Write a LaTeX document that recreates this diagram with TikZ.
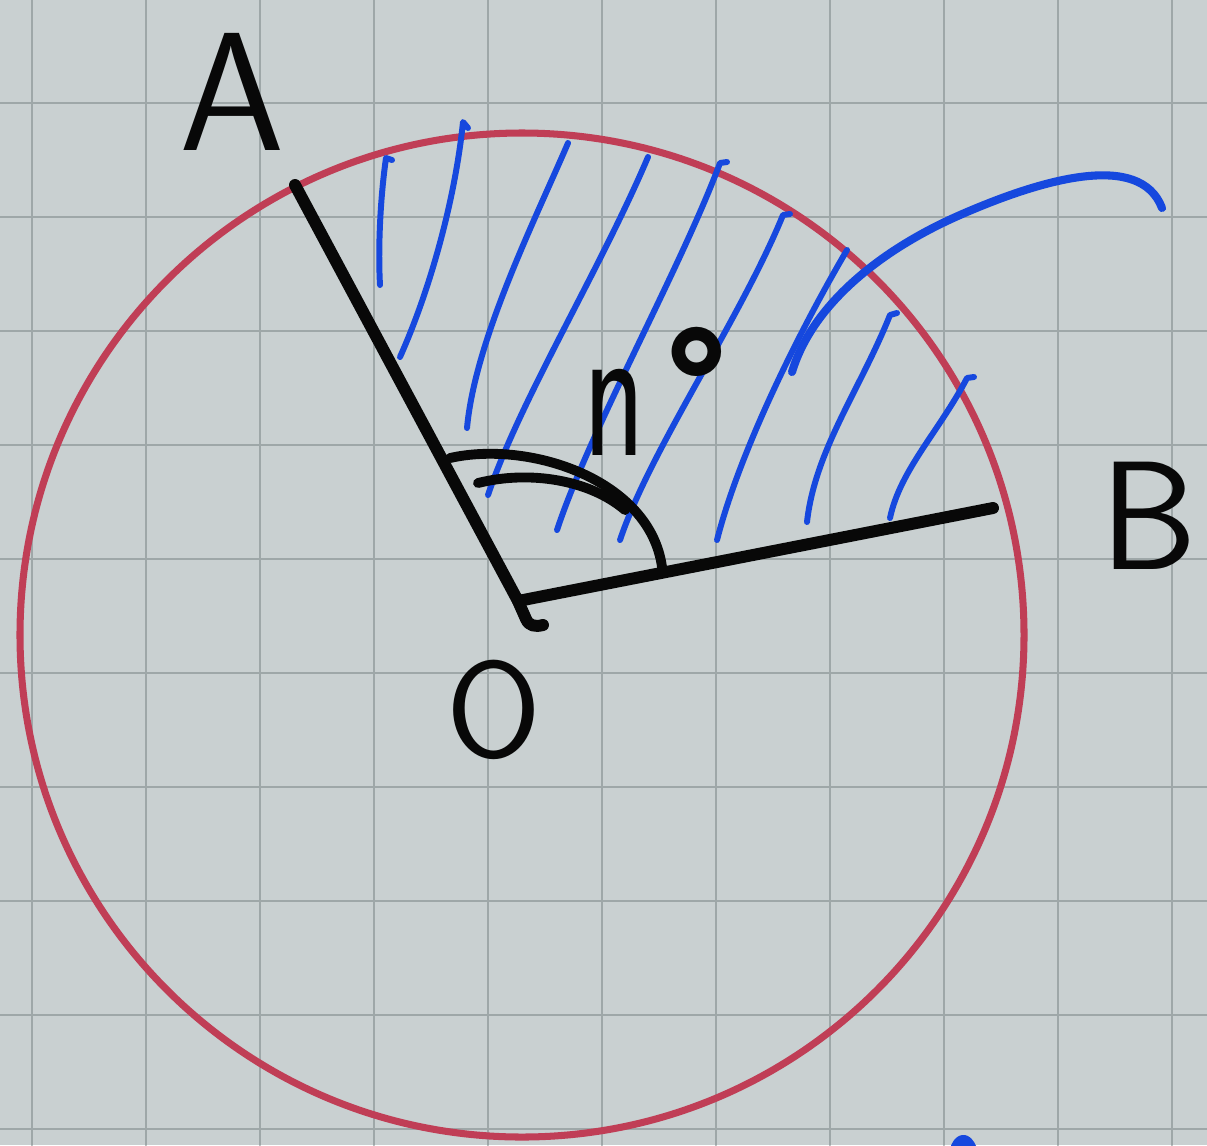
\documentclass[tikz,border=0pt]{standalone}
\usepackage{fontspec}
\usepackage{graphicx}
\definecolor{paper}{RGB}{201,208,209}
\definecolor{gridc}{RGB}{158,167,168}
\definecolor{rimred}{RGB}{192,62,86}
\definecolor{penblue}{RGB}{22,72,222}
\definecolor{ink}{RGB}{8,8,8}
\begin{document}
\begin{tikzpicture}[x=0.01cm,y=-0.01cm, line cap=round, line join=round,
  gridline/.style={draw=gridc, line width=0.55pt},
  rim/.style={draw=rimred, line width=2pt},
  radiusline/.style={draw=ink, line width=3.4pt},
  anglearc/.style={draw=ink, line width=2.8pt},
  hatch/.style={draw=penblue, line width=1.7pt},
  pointer/.style={draw=penblue, line width=2.3pt},
  lbl/.style={font=\sffamily, text=ink, inner sep=0pt}]
\fill[paper] (0,0) rectangle (1207,1145);
\useasboundingbox (0,0) rectangle (1207,1145);
% grid paper
\foreach \gx in {32,146,...,1172} \draw[gridline] (\gx,0) -- (\gx,1145);
\foreach \gy in {103,217,...,1129} \draw[gridline] (0,\gy) -- (1207,\gy);
% circle
\coordinate (C) at (522,635);
\draw[rim] (C) circle[radius=502];
% hatching of the sector
\draw[hatch] (392,160) -- (386,158) .. controls (380,200) and (378,250) .. (380,285);
\draw[hatch] (468,128) -- (463,122) .. controls (455,200) and (430,290) .. (400,357);
\draw[hatch] (568,143) .. controls (535,220) and (475,340) .. (467,428);
\draw[hatch] (648,157) .. controls (600,270) and (520,400) .. (488,495);
\draw[hatch] (727,162) -- (720,163) .. controls (680,270) and (590,430) .. (557,530);
\draw[hatch] (790,214) -- (783,215) .. controls (740,320) and (650,450) .. (620,540);
\draw[hatch] (847,250) .. controls (800,330) and (740,450) .. (717,540);
\draw[hatch] (897,313) -- (890,315) .. controls (860,390) and (815,450) .. (807,522);
\draw[hatch] (974,377) -- (967,378) .. controls (940,430) and (900,470) .. (890,518);
% pointer curve
\coordinate (P0) at (792,372);
\coordinate (P1) at (1162,208);
\draw[pointer] (P0) .. controls (812,305) and (880,250) .. (960,215)
  .. controls (1040,180) and (1140,150) .. (P1);
% small stroke at the bottom edge
\draw[pointer, line width=3pt] (955,1150) .. controls (958,1140) and (966,1134) .. (972,1150);
% radii
\coordinate (O) at (518,601);
\coordinate (Aend) at (295,185);
\coordinate (Bend) at (993,508);
\coordinate (Hook) at (543,625);
\draw[radiusline] (Aend) -- (O) -- (526,619) .. controls (529,626) and (535,627) .. (Hook);
\draw[radiusline] (O) -- (Bend);
% angle mark
\draw[anglearc] (450,458) .. controls (530,440) and (650,480) .. (662,567);
\draw[anglearc] (478,483) .. controls (530,470) and (590,480) .. (625,510);
% labels
\node[lbl, font=\fontsize{48}{48}\selectfont\sffamily] (A) at (232,92) {A};
\node[lbl, font=\fontsize{44}{44}\selectfont\sffamily] (B) at (1149,516) {B};
\node[lbl, font=\fontsize{39}{39}\selectfont\sffamily] (Olbl) at (494,710) {O};
\node[lbl, anchor=base west, font=\fontsize{56}{56}\selectfont\sffamily] (deg) at (583,455)
  {\scalebox{0.65}[1]{n}\hspace{0.09em}\raisebox{0.08em}{\fontsize{46}{46}\selectfont\bfseries °}};
\end{tikzpicture}
\end{document}
